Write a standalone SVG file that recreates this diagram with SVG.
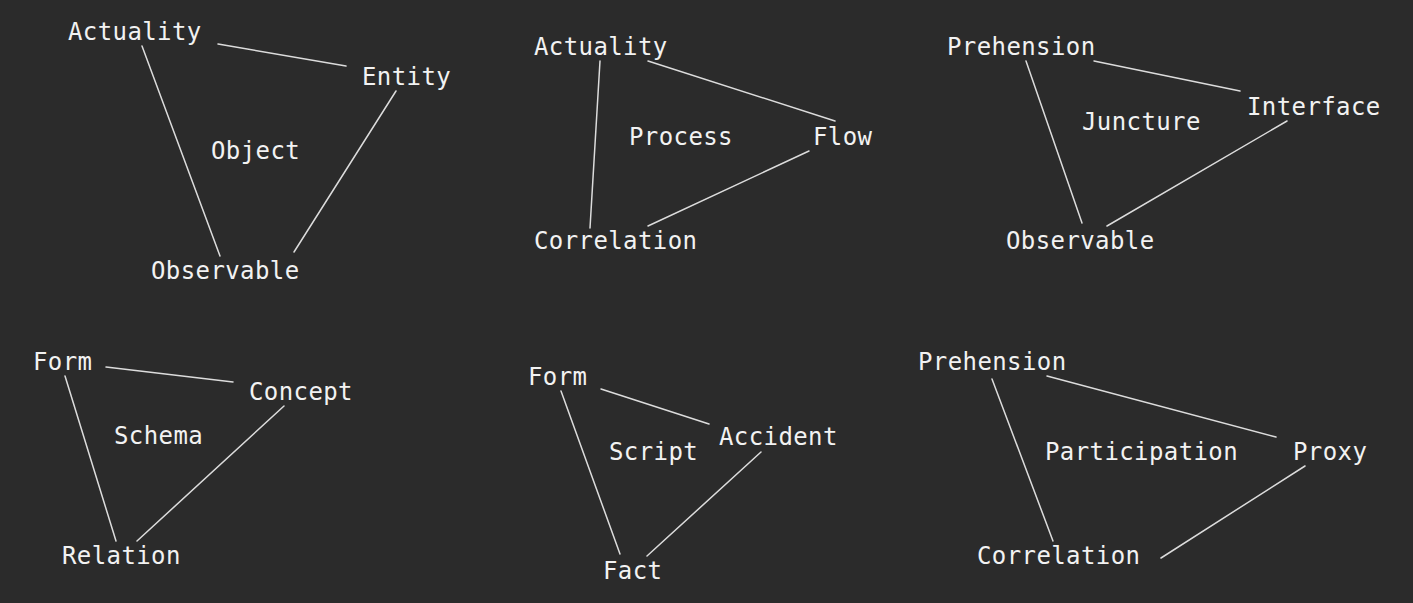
<svg xmlns="http://www.w3.org/2000/svg" width="1413" height="603" viewBox="0 0 1413 603">
<style>
.bg{fill:#2b2b2b}
text{font-family:"DejaVu Sans Mono","Liberation Mono",monospace;font-size:24px;letter-spacing:0.4px;fill:#f2f2f2}
.c line{stroke:#dcdcdc;stroke-width:1.5;stroke-linecap:round}
</style>
<rect class="bg" x="0" y="0" width="1413" height="603"/>
<g class="c" id="connectors">
<line x1="218" y1="44" x2="346" y2="66"/>
<line x1="142" y1="46" x2="220" y2="256"/>
<line x1="396" y1="91" x2="294" y2="252"/>
<line x1="600" y1="61" x2="590" y2="228"/>
<line x1="648" y1="61" x2="835" y2="121"/>
<line x1="809" y1="151" x2="648" y2="226"/>
<line x1="1026" y1="61" x2="1082" y2="223"/>
<line x1="1094" y1="61" x2="1240" y2="91"/>
<line x1="1287" y1="121" x2="1107" y2="226"/>
<line x1="106" y1="367" x2="233" y2="382"/>
<line x1="65" y1="376" x2="116" y2="541"/>
<line x1="284" y1="406" x2="137" y2="541"/>
<line x1="601" y1="389" x2="709" y2="424"/>
<line x1="561" y1="391" x2="620" y2="554"/>
<line x1="761" y1="452" x2="647" y2="556"/>
<line x1="992" y1="379" x2="1053" y2="541"/>
<line x1="1047" y1="376" x2="1276" y2="437"/>
<line x1="1305" y1="466" x2="1161" y2="558"/>
</g>
<g id="p1-actuality"><text x="68" y="40">Actuality</text></g>
<g id="p1-entity"><text x="362" y="85">Entity</text></g>
<g id="p1-object"><text x="211" y="159">Object</text></g>
<g id="p1-observable"><text x="151" y="279">Observable</text></g>
<g id="p2-actuality"><text x="534" y="55">Actuality</text></g>
<g id="p2-process"><text x="629" y="145">Process</text></g>
<g id="p2-flow"><text x="813" y="145">Flow</text></g>
<g id="p2-correlation"><text x="534" y="249">Correlation</text></g>
<g id="p3-prehension"><text x="947" y="55">Prehension</text></g>
<g id="p3-interface"><text x="1247" y="115">Interface</text></g>
<g id="p3-juncture"><text x="1082" y="130">Juncture</text></g>
<g id="p3-observable"><text x="1006" y="249">Observable</text></g>
<g id="p4-form"><text x="33" y="370">Form</text></g>
<g id="p4-concept"><text x="249" y="400">Concept</text></g>
<g id="p4-schema"><text x="114" y="444">Schema</text></g>
<g id="p4-relation"><text x="62" y="564">Relation</text></g>
<g id="p5-form"><text x="528" y="385">Form</text></g>
<g id="p5-accident"><text x="719" y="445">Accident</text></g>
<g id="p5-script"><text x="609" y="460">Script</text></g>
<g id="p5-fact"><text x="603" y="579">Fact</text></g>
<g id="p6-prehension"><text x="918" y="370">Prehension</text></g>
<g id="p6-proxy"><text x="1293" y="460">Proxy</text></g>
<g id="p6-participation"><text x="1045" y="460">Participation</text></g>
<g id="p6-correlation"><text x="977" y="564">Correlation</text></g>
</svg>
